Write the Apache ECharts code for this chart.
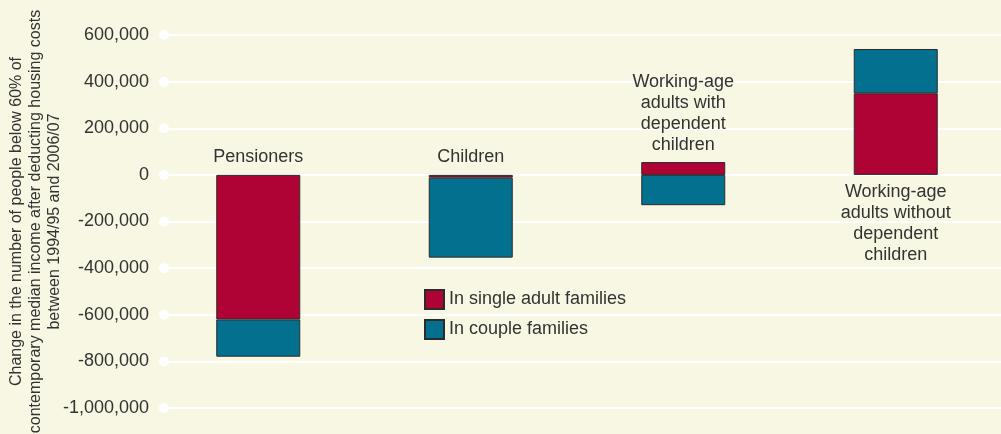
<!DOCTYPE html>
<html>
<head>
<meta charset="utf-8">
<script src="https://cdn.jsdelivr.net/npm/echarts@6/dist/echarts.min.js"></script>
<style>
html,body{margin:0;padding:0;background:#f7f7e3;}
#chart{width:1001px;height:434px;}
</style>
</head>
<body>
<div id="chart"></div>
<script>
const categories = ['Pensioners', 'Children', 'Working-age\nadults with\ndependent\nchildren', 'Working-age\nadults without\ndependent\nchildren'];
const singleAdult = [-620000, -12000, 55000, 350000];
const couple = [-160000, -343000, -130000, 190000];
const labelSide = ['top', 'top', 'top', 'bottom'];
const yTicks = [-1000000, -800000, -600000, -400000, -200000, 0, 200000, 400000, 600000];
const seriesNames = ['In single adult families', 'In couple families'];
const yTitle = 'Change in the number of people below 60% of\ncontemporary median income after deducting housing costs\nbetween 1994/95 and 2006/07';

const TEXT = '#333333';
const FONT = 'Liberation Sans, Arial, Helvetica, sans-serif';

const anchors = categories.map((c, i) => {
  const vals = [singleAdult[i], couple[i]];
  const pos = vals.filter(v => v > 0).reduce((a, b) => a + b, 0);
  const neg = vals.filter(v => v < 0).reduce((a, b) => a + b, 0);
  return labelSide[i] === 'top' ? pos : Math.min(0, neg);
});

const chart = echarts.init(document.getElementById('chart'));
chart.setOption({
  backgroundColor: '#f7f7e3',
  animation: false,
  textStyle: { fontFamily: FONT, color: TEXT },
  legend: {
    orient: 'vertical', left: 419, top: 284, padding: 5,
    itemWidth: 19, itemHeight: 19, itemGap: 9,
    icon: 'rect',
    data: seriesNames,
    textStyle: { fontSize: 18, color: TEXT, fontFamily: FONT }
  },
  grid: [
    { left: 164, right: 0, top: 35, bottom: 26, outerBoundsMode: 'none', containLabel: false },
    { left: 152, right: -1, top: 35, bottom: 26, outerBoundsMode: 'none', containLabel: false }
  ],
  xAxis: [
    { gridIndex: 0, type: 'value', min: 0, max: 1, show: false },
    { gridIndex: 1, type: 'category', data: categories, show: false }
  ],
  yAxis: [
    {
      gridIndex: 0, type: 'value', min: yTicks[0], max: yTicks[yTicks.length - 1], interval: 200000,
      axisLine: { show: false }, axisTick: { show: false },
      splitLine: { show: true, lineStyle: { color: '#ffffff', width: 2 } },
      axisLabel: { margin: 15, fontSize: 18, color: TEXT, fontFamily: FONT,
        formatter: v => v.toLocaleString('en-US') },
      name: yTitle, nameLocation: 'middle', nameRotate: 90, nameGap: 100, nameMoveOverlap: false,
      nameTextStyle: { fontSize: 16, lineHeight: 19, color: TEXT, fontFamily: FONT, align: 'center' }
    },
    {
      gridIndex: 1, type: 'value', min: yTicks[0], max: yTicks[yTicks.length - 1], interval: 200000,
      show: false, splitLine: { show: false }
    }
  ],
  series: [
    {
      type: 'scatter', xAxisIndex: 0, yAxisIndex: 0, silent: true,
      data: yTicks.map(v => [0, v]), symbol: 'circle', symbolSize: 10,
      itemStyle: { color: '#ffffff', opacity: 1 }, z: 1
    },
    {
      name: seriesNames[0], type: 'bar', stack: 'total', xAxisIndex: 1, yAxisIndex: 1,
      data: singleAdult, barWidth: 84,
      itemStyle: { color: '#b00335', borderColor: '#2b2b2b', borderWidth: 1 }
    },
    {
      name: seriesNames[1], type: 'bar', stack: 'total', xAxisIndex: 1, yAxisIndex: 1,
      data: couple, barWidth: 84,
      itemStyle: { color: '#02708e', borderColor: '#2b2b2b', borderWidth: 1 }
    },
    {
      type: 'scatter', xAxisIndex: 1, yAxisIndex: 1, silent: true, symbolSize: 0,
      itemStyle: { opacity: 1 },
      data: categories.map((c, i) => ({
        value: [i, anchors[i]],
        label: { show: true, position: labelSide[i], distance: 7, formatter: c,
          fontSize: 18, lineHeight: 21, color: TEXT, fontFamily: FONT, align: 'center', opacity: 1 }
      }))
    }
  ]
});
</script>
</body>
</html>
